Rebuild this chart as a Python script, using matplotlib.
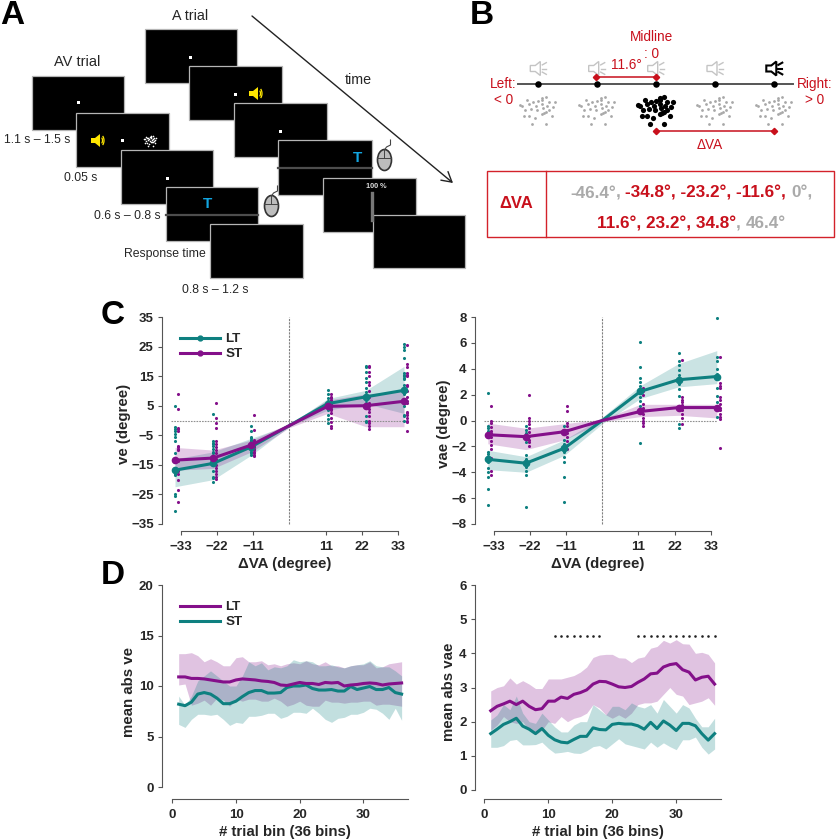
import numpy as np
import matplotlib
matplotlib.use("Agg")
import matplotlib.pyplot as plt
from matplotlib.patches import Rectangle, Polygon, Ellipse, Arc
from matplotlib.lines import Line2D

plt.rcParams['font.family'] = ['Liberation Sans', 'DejaVu Sans']

W, H = 837, 840
TEAL = '#0e8080'
PURPLE = '#84108a'
DARK = '#262626'
AXC = '#555555'
RED = '#c8101c'
GRAY = '#aaaaaa'

#============ Panel C data =============
va_pos = [-34.8, -23.2, -11.6, 0, 11.6, 23.2, 34.8]
va_ticks = [-33, -22, -11, 11, 22, 33]
ve_ticks = [-35, -25, -15, -5, 5, 15, 25, 35]
vae_ticks = [-8, -6, -4, -2, 0, 2, 4, 6, 8]

ve_lt = [-16.8, -14.5, -8.9, -1.7, 5.7, 8.0, 10.2]
ve_lt_hi = [-13.0, -10.6, -6.0, -1.4, 7.4, 10.2, 18.3]
ve_lt_lo = [-22.4, -20.0, -11.7, -2.0, 3.5, 5.7, 2.4]
ve_st = [-13.4, -12.7, -8.3, -1.7, 4.8, 5.0, 6.5]
ve_st_hi = [-9.1, -10.0, -6.6, -1.0, 6.9, 9.0, 10.0]
ve_st_lo = [-16.8, -16.2, -10.6, -2.4, 2.4, -2.1, -2.1]

vae_lt = [-3.0, -3.3, -2.15, 0, 2.25, 3.15, 3.4]
vae_lt_hi = [-2.3, -2.8, -1.5, 0.25, 2.7, 4.4, 5.4]
vae_lt_lo = [-3.8, -4.0, -2.7, -0.25, 1.7, 2.6, 2.85]
vae_st = [-1.1, -1.25, -0.87, 0, 0.7, 1.0, 1.0]
vae_st_hi = [-0.2, -0.6, -0.25, 0.1, 1.25, 1.25, 1.25]
vae_st_lo = [-1.8, -2.25, -1.5, -0.1, 0.3, 0.4, 0.2]

ve_lt_pts = [
    [5, -2.2, -2.8, -3.5, -4.5, -5.5, -7, -11, -16, -16.8, -17.5, -18, -18.5, -25, -25.5, -30.7],
    [2.2, -7, -7.5, -8, -8.5, -9.5, -10.5, -11, -13, -14, -15, -17, -19, -19.5, -20.8],
    [-1.7, -3.5, -5.5, -6, -6.5, -7, -7.5, -8, -8.5, -9, -9.5, -10, -10.5, -11, -11.7],
    [10.2, 8.8, 7.5, 6.5, 6, 5.5, 5, 4.5, 4, 3.5, 1.8, 0.5, -0.7],
    [18.5, 18, 16.5, 14.5, 13, 11, 9.5, 8, 7.5, 7, 6, 5, 1.5, 0, -0.5],
    [26, 25, 24, 21, 16, 15.5, 15, 14.5, 14, 12, 11, 10, 9, 7, 5, 2, 1.5, 0],
]
ve_st_pts = [
    [8.8, 4, -2.5, -3, -3.5, -8.5, -9, -9.5, -10, -13.5, -13.8, -17, -18, -20, -23.5, -27.5],
    [6, 0.8, -1, -2.5, -7, -8, -9, -10, -11, -13, -15, -16, -17, -18, -19, -19.8],
    [1.8, -3.2, -6.5, -7, -7.5, -8, -8.5, -9, -9.5, -10, -10.5, -11, -11.5, -12],
    [8.8, 8, 7.5, 7, 6, 5.5, 5, 4.5, 4, 3.5, 2.5, 1, -0.5, -1.8, -2.5],
    [18.5, 18, 16.5, 15, 13, 12, 10, 8, 6, 5, 4, 3, 1.5, 0, -1, -2, -3],
    [25.7, 19, 18, 16, 15.5, 15, 12, 11.5, 10, 8, 6.5, 6, 3, 2.5, 2, 1, 0, -0.5, -3.5],
]
vae_lt_pts = [
    [2.15, -0.4, -0.6, -0.8, -1, -1.2, -2.4, -2.6, -2.9, -3.2, -3.7, -4, -4.4, -5.3, -6.5],
    [-0.4, -0.7, -1, -1.3, -1.7, -2.7, -3, -3.3, -3.6, -3.9, -4.2, -6.7],
    [-0.4, -0.7, -1, -1.5, -1.8, -2.1, -2.4, -2.8, -3.2, -4.4, -6.3],
    [6.05, 4.1, 3.3, 3, 2.7, 2.4, 2.1, 1.8, 1.5, 1.1, 0.8, 0.6, -1.75],
    [5.2, 4.6, 4.3, 3.9, 3.5, 3.1, 2.8, 2.4, 1.9, 1.1, 0.9, -0.3, -0.6],
    [7.9, 4.9, 4.6, 4, 3.6, 3.3, 2.5, 1.9, 1.4, 1.1, 0.9, 0.3],
]
vae_st_pts = [
    [1.1, 0, -0.2, -0.5, -0.8, -1, -1.3, -1.6, -1.9, -2.2, -2.9, -3.9, -4.2],
    [2, 0.2, 0, -0.3, -0.6, -0.9, -1.2, -1.5, -1.7, -2],
    [1.15, 0.7, -0.2, -0.4, -0.7, -1, -1.3, -1.6, -1.9, -2.2],
    [2.55, 2.3, 2, 1.3, 1, 0.8, 0.5, 0.2, 0, -0.2, -0.4],
    [4.7, 1.8, 1.6, 1.4, 1.2, 1, 0.8, 0.5, 0.2, -0.3],
    [4.9, 2.9, 2.7, 2.5, 1.8, 1.6, 1.3, 1, 0.8, 0.5, 0.3, 0.1, -2.15],
]

#============ Panel D data =============
bins = list(range(1, 37))
abs_ve_lt = [10.9, 10.9, 10.75, 10.75, 10.7, 10.6, 10.5, 10.4, 10.4, 10.6, 10.7, 10.65,
             10.6, 10.5, 10.45, 10.35, 10.1, 10.05, 10.2, 10.35, 10.25, 10.25, 10.15, 10.35,
             10.3, 10.35, 10.0, 10.1, 10.15, 10.25, 10.3, 10.25, 10.1, 10.2, 10.25, 10.3]
abs_ve_lt_hi = [13.2, 13.2, 13.3, 13.0, 12.4, 12.7, 12.4, 12.0, 12.0, 12.8, 12.9, 12.4,
                12.4, 12.5, 12.1, 12.2, 12.0, 12.2, 12.3, 12.2, 12.5, 12.2, 12.1, 12.4,
                12.0, 12.0, 11.8, 12.0, 12.1, 12.1, 12.4, 11.8, 11.9, 12.2, 12.3, 12.4]
abs_ve_lt_lo = [10.1, 10.2, 8.1, 8.3, 8.6, 8.1, 8.8, 8.6, 8.0, 8.7, 8.5, 8.7,
                8.7, 8.5, 8.5, 8.8, 8.5, 8.0, 8.2, 8.5, 8.1, 8.0, 8.0, 8.6,
                8.4, 8.4, 8.3, 8.4, 8.4, 8.5, 8.5, 8.1, 8.2, 8.2, 8.1, 8.0]
abs_ve_st = [8.2, 8.05, 8.4, 9.2, 9.35, 9.2, 8.8, 8.25, 8.25, 8.5, 8.95, 9.35,
             9.55, 9.55, 9.3, 9.3, 9.35, 9.85, 10.0, 10.0, 10.1, 9.75, 9.6, 9.6,
             9.65, 9.5, 9.5, 9.95, 9.65, 9.8, 9.95, 9.65, 9.65, 9.85, 9.35, 9.2]
abs_ve_st_hi = [9.0, 8.1, 9.0, 10.5, 11.0, 11.5, 11.0, 10.5, 10.0, 10.0, 11.0, 12.4,
                12.0, 12.3, 11.6, 11.9, 11.8, 12.0, 12.6, 12.4, 12.5, 12.4, 12.0, 12.0,
                12.1, 11.9, 11.8, 12.0, 12.1, 12.2, 12.5, 12.0, 11.9, 11.9, 11.5, 11.0]
abs_ve_st_lo = [6.2, 5.9, 6.7, 7.2, 7.2, 7.1, 7.2, 6.7, 6.1, 6.4, 6.3, 7.0,
                7.0, 7.1, 7.3, 7.3, 6.8, 7.0, 7.4, 7.4, 7.3, 7.8, 7.3, 6.7,
                6.4, 6.8, 6.9, 7.2, 7.2, 7.4, 7.8, 7.7, 7.3, 6.7, 7.8, 6.6]

abs_vae_lt = [2.32, 2.45, 2.52, 2.6, 2.5, 2.6, 2.45, 2.35, 2.38, 2.6, 2.6, 2.72,
              2.68, 2.8, 2.85, 2.93, 3.1, 3.18, 3.17, 3.1, 3.02, 3.0, 3.03, 3.15,
              3.25, 3.4, 3.42, 3.6, 3.67, 3.7, 3.52, 3.45, 3.22, 3.3, 3.33, 3.1]
abs_vae_lt_hi = [2.9, 3.0, 3.05, 3.28, 3.1, 3.2, 3.1, 2.97, 2.97, 3.25, 3.25, 3.25,
                 3.3, 3.35, 3.45, 3.6, 3.88, 3.95, 3.97, 3.97, 3.87, 3.86, 3.73, 3.86,
                 3.9, 4.15, 4.2, 4.38, 4.3, 4.4, 4.28, 4.27, 4.0, 4.03, 3.97, 3.72]
abs_vae_lt_lo = [1.75, 1.9, 2.15, 2.0, 1.95, 2.0, 1.75, 1.62, 1.75, 2.0, 1.95, 2.15,
                 2.0, 2.1, 2.15, 2.25, 2.5, 2.4, 2.2, 2.1, 2.2, 2.1, 2.25, 2.5,
                 2.55, 2.55, 2.6, 2.8, 3.0, 2.8, 2.75, 2.5, 2.55, 2.6, 2.7, 2.48]
abs_vae_st = [1.65, 1.78, 1.92, 2.0, 2.1, 1.87, 1.78, 1.65, 1.8, 1.6, 1.47, 1.4,
              1.38, 1.48, 1.57, 1.57, 1.82, 1.77, 1.76, 1.92, 1.95, 1.93, 1.93, 1.88,
              1.78, 1.98, 1.8, 2.02, 1.9, 1.74, 1.95, 1.95, 1.88, 1.65, 1.46, 1.65]
abs_vae_st_hi = [2.05, 2.2, 2.5, 2.35, 2.75, 2.25, 2.0, 1.95, 2.25, 2.05, 1.85, 1.7,
                 1.7, 1.9, 2.0, 2.0, 2.5, 2.35, 2.2, 2.45, 2.45, 2.35, 2.55, 2.45,
                 2.4, 2.5, 2.25, 2.65, 2.45, 2.25, 2.5, 2.4, 2.1, 1.85, 1.85, 2.1]
abs_vae_st_lo = [1.25, 1.25, 1.3, 1.45, 1.48, 1.32, 1.32, 1.33, 1.4, 1.22, 1.08, 1.1,
                 1.13, 1.08, 1.07, 1.15, 1.27, 1.3, 1.2, 1.35, 1.5, 1.35, 1.3, 1.25,
                 1.2, 1.4, 1.25, 1.38, 1.27, 1.18, 1.47, 1.47, 1.55, 1.25, 1.05, 1.2]
sig_bins = [11, 12, 13, 14, 15, 16, 17, 18, 24, 25, 26, 27, 28, 29, 30, 31, 32, 33, 34, 35, 36]

#============ Panel B data =============
row1 = [('-46.4°', GRAY), (', ', GRAY), ('-34.8°, -23.2°, -11.6°,', RED), (' ', RED), ('0°,', GRAY)]
row2 = [('11.6°, 23.2°, 34.8°', RED), (', ', GRAY), ('46.4°', GRAY)]
# dot cloud offsets read from the centre cluster, px
cloud_x = [-18, -11, -5, 0, 4, 8, 11, 17, -9, -2, 4, 9, 15, -13, -7, -1, 5, 11, 8, 4, 6, -14, -9, -3, 14, -6, 8, -16, 4]
cloud_y = [-3, -8, -6, -7, -10, -11, -6, -6, -4, -2, -4, -2, -1, 2, 1, 2, 0, 2, 4, 6, 5, 8, 8, 10, 8, 16, 16, -2, -8]

fig = plt.figure(figsize=(W / 100, H / 100), dpi=100)

#full figure layer in pixel coords for the schematics
bg = fig.add_axes([0, 0, 1, 1])
bg.set_xlim(0, W)
bg.set_ylim(H, 0)
bg.axis('off')


def px_axes(left, top, right, bottom):
    return fig.add_axes([left / W, 1 - bottom / H, (right - left) / W, (bottom - top) / H])


def screen(x0, y0, x1, y1, edge='#b5b5b5'):
    bg.add_patch(Rectangle((x0, y0), x1 - x0, y1 - y0, fc='black', ec=edge, lw=0.9))


def fix_dot(x, y):
    bg.add_patch(Rectangle((x - 1.5, y - 1.5), 3, 3, fc='white', ec='none', zorder=5))


def yellow_speaker(x, y):
    bg.add_patch(Polygon([(x - 8, y - 2.5), (x - 4, y - 2.5), (x + 1, y - 6.5), (x + 1, y + 6.5),
                          (x - 4, y + 2.5), (x - 8, y + 2.5)], fc='#ffe600', ec='none', zorder=5))
    for r in (5, 8):
        bg.add_patch(Arc((x + 1, y), r, r * 1.5, theta1=-60, theta2=60, ec='#ffe600', lw=0.9, zorder=5))


def mouse(x, y):
    bg.add_patch(Ellipse((x, y), 14, 21, fc='#bdbdbd', ec='#333333', lw=1.2, zorder=5))
    bg.plot([x - 7, x + 7], [y - 2, y - 2], color='#444444', lw=0.7, zorder=6)
    bg.plot([x, x], [y - 10, y - 2], color='#444444', lw=0.7, zorder=6)
    bg.plot([x, x + 2, x + 6, x + 6], [y - 10, y - 13, y - 15, y - 20], color='#444444', lw=0.8, zorder=6)


def slider(x0, x1, y, tx):
    bg.plot([x0, x1], [y, y], color='#4d4d4d', lw=1.6, zorder=5)
    bg.text(tx, y - 10, 'T', color='#12a5e0', fontsize=11, fontweight='bold', ha='center', va='center', zorder=6)


def speaker_outline(x, y, color, lw=1.0):
    bg.add_patch(Polygon([(x - 8, y - 3), (x - 3, y - 3), (x + 2, y - 7), (x + 2, y + 7),
                          (x - 3, y + 3), (x - 8, y + 3)], fc='white', ec=color, lw=lw))
    for dy in (-4.5, 0, 4.5):
        bg.plot([x + 4, x + 8], [y + dy * 0.8, y + dy * 1.3], color=color, lw=lw)


def red_bracket(x0, x1, y):
    bg.plot([x0, x1], [y, y], color=RED, lw=1.1, marker='D', ms=3.2, zorder=5)


#============ Panel A =============
bg.text(0, 15, 'A', fontsize=24, fontweight='bold', color='black', ha='left', va='center')
bg.text(190, 15.5, 'A trial', fontsize=10.3, color=DARK, ha='center', va='center')
bg.text(77, 62, 'AV trial', fontsize=10.5, color=DARK, ha='center', va='center')

for x0, y0, x1, y1 in [(145, 29, 237.5, 83), (189.5, 66, 282, 120), (234.5, 103, 327, 157),
                       (278.5, 140, 372, 194.5), (323.5, 177.5, 416.5, 231.5), (373, 214.5, 465.5, 268)]:
    screen(x0, y0, x1, y1)
for x0, y0, x1, y1 in [(32, 75.5, 124.5, 129.5), (76.5, 112.5, 169, 167), (121, 149.5, 213.5, 204),
                       (166, 186.5, 258.5, 240.5), (210.5, 224, 303, 278)]:
    screen(x0, y0, x1, y1)

for x, y in [(191, 57), (236, 94), (280.5, 131), (78.5, 102), (123, 140), (167.5, 178)]:
    fix_dot(x, y)
yellow_speaker(257, 93.5)
yellow_speaker(99, 140.5)
# visual stimulus blob in the AV trial
bg.scatter(150 + np.array(cloud_x) * 0.33, 140 + np.array(cloud_y) * 0.4, s=1.4, c='white', lw=0, zorder=5)
slider(278.5, 372, 167.5, 358)
slider(166, 258.5, 214.5, 207.5)
mouse(384.5, 160)
mouse(271.5, 206)
bg.text(376, 186.5, '100 %', color='#dddddd', fontsize=5.2, fontweight='bold', ha='center', va='center', zorder=6)
bg.plot([372.5, 372.5], [193, 220], color='#777777', lw=2.4, zorder=6)

for x, y, s in [(37, 140, '1.1 s – 1.5 s'), (80.5, 178, '0.05 s'), (127.5, 216, '0.6 s – 0.8 s'),
                (164.5, 253.5, 'Response time'), (215, 290, '0.8 s – 1.2 s')]:
    bg.text(x, y, s, fontsize=8.8, color=DARK, ha='center', va='center')
bg.text(358.5, 79.5, 'time', fontsize=10.3, color=DARK, ha='center', va='center')
bg.annotate('', xy=(453, 183), xytext=(252, 16),
            arrowprops=dict(arrowstyle='->,head_length=0.7,head_width=0.4', color='#222222', lw=1.0, shrinkA=0, shrinkB=0))

#============ Panel B =============
bg.text(470, 15, 'B', fontsize=24, fontweight='bold', color='black', ha='left', va='center')
b_x = [538.3, 596.7, 655.7, 715, 774.3]
bg.plot([518.3, 793.3], [84, 84], color='#555555', lw=1.4, zorder=2)
bg.scatter(b_x, [84] * 5, s=22, c='black', lw=0, zorder=3)
for i, x in enumerate(b_x):
    speaker_outline(x, 68.5, 'black' if i == 4 else '#c4c4c4', 1.5 if i == 4 else 1.0)
    if i == 2:
        bg.scatter(x + np.array(cloud_x), 108 + np.array(cloud_y), s=14, c='black', lw=0, zorder=3)
    else:
        bg.scatter(x + np.array(cloud_x), 108 + np.array(cloud_y), s=4, c='#a8a8a8', lw=0, zorder=3)
red_bracket(595.7, 655.7, 77)
red_bracket(655.7, 774.3, 131)
for x, y, s in [(651.7, 37.3, 'Midline'), (651.7, 54.3, ': 0'), (626.7, 65, '11.6°'),
                (503.3, 84, 'Left:'), (503.3, 100, '< 0'), (815, 84, 'Right:'), (815, 100, '> 0'),
                (710, 145, 'ΔVA')]:
    bg.text(x, y, s, fontsize=9.8, color=RED, ha='center', va='center',
            bbox=dict(fc='white', ec='none', pad=0.2) if s == '11.6°' else None, zorder=4)
bg.add_patch(Rectangle((487.3, 171), 346.7, 66.3, fc='white', ec='#d3222a', lw=1.0))
bg.plot([546.3, 546.3], [171, 237.3], color='#d3222a', lw=1.0)
bg.text(516.7, 204, 'ΔVA', fontsize=12, fontweight='bold', color=RED, ha='center', va='center')

renderer = fig.canvas.get_renderer()


def colored_row(parts, x, y):
    # place the pieces one after another, measuring each one
    for s, c in parts:
        t = bg.text(x, y, s, fontsize=12.3, fontweight='bold', color=c, ha='left', va='center_baseline')
        t.set_text(s.replace(' ', '\u00a0'))
        x += t.get_window_extent(renderer).width


colored_row(row1, 570, 191.7)
colored_row(row2, 596.7, 222.3)


#============ Panels C and D =============
def style_axes(ax, xb, yb, xticks, yticks, xlabel, ylabel, ypad, xlab_x=0.5):
    for side in ('top', 'right'):
        ax.spines[side].set_visible(False)
    ax.patch.set_alpha(0)
    ax.spines['left'].set_bounds(*yb)
    ax.spines['bottom'].set_bounds(*xb)
    ax.spines['left'].set_color(AXC)
    ax.spines['bottom'].set_color(AXC)
    ax.set_xticks(xticks)
    ax.set_yticks(yticks)
    ax.tick_params(length=3, width=0.8, color=AXC, labelcolor=DARK, labelsize=9.5, pad=3)
    ax.tick_params(axis='x', pad=4.5)
    for lab in ax.get_xticklabels() + ax.get_yticklabels():
        lab.set_fontweight('bold')
    ax.set_xlabel(xlabel, fontsize=10.8, fontweight='bold', color=DARK, labelpad=2.5, x=xlab_x)
    ax.set_ylabel(ylabel, fontsize=10.8, fontweight='bold', color=DARK, labelpad=ypad)


def va_panel(ax, xlim, lt, lt_hi, lt_lo, st, st_hi, st_lo, lt_pts, st_pts, y_lim, ticks, ylabel):
    ax.set_xlim(*xlim)
    ax.set_ylim(*y_lim)
    ax.axvline(0, ymin=(ticks[0] - y_lim[0]) / (y_lim[1] - y_lim[0]), color='#808080', lw=0.8, ls=(0, (2, 1)))
    ax.plot([-36, 34.8], [0, 0], color='#909090', lw=0.8, ls=(0, (1.5, 1)))
    ax.fill_between(va_pos, lt_lo, lt_hi, color=TEAL, alpha=0.22, lw=0)
    ax.fill_between(va_pos, st_lo, st_hi, color=PURPLE, alpha=0.22, lw=0)
    outer = [p for p in va_pos if p != 0]
    for x, lp, sp in zip(outer, lt_pts, st_pts):
        ax.scatter([x] * len(lp), lp, s=5, c=TEAL, lw=0, zorder=3)
        ax.scatter([x + 0.9] * len(sp), sp, s=5, c=PURPLE, lw=0, zorder=3)
    ax.plot(va_pos, lt, color=TEAL, lw=2.2, marker='o', ms=4.5, markevery=[0, 1, 2, 4, 5, 6], zorder=4, label='LT')
    ax.plot(va_pos, st, color=PURPLE, lw=2.2, marker='o', ms=4.5, markevery=[0, 1, 2, 4, 5, 6], zorder=5, label='ST')
    style_axes(ax, (-33, 33), (ticks[0], ticks[-1]), va_ticks, ticks, 'ΔVA (degree)', ylabel, 0, 0.468)


def bin_panel(ax, xlim, lt, lt_hi, lt_lo, st, st_hi, st_lo, y_lim, ticks, ylabel):
    ax.set_xlim(*xlim)
    ax.set_ylim(*y_lim)
    ax.fill_between(bins, lt_lo, lt_hi, color=PURPLE, alpha=0.25, lw=0)
    ax.fill_between(bins, st_lo, st_hi, color=TEAL, alpha=0.25, lw=0)
    ax.plot(bins, lt, color=PURPLE, lw=2.2, label='LT', zorder=4)
    ax.plot(bins, st, color=TEAL, lw=2.2, label='ST', zorder=3)
    style_axes(ax, (0, 37), (ticks[0], ticks[-1]), [0, 10, 20, 30], ticks, '# trial bin (36 bins)', ylabel, 2.4)


px_per_deg = 3.29
ax_c1 = px_axes(162, 317, 425, 531)
va_panel(ax_c1, ((162 - 289.5) / px_per_deg, (425 - 289.5) / px_per_deg),
         ve_lt, ve_lt_hi, ve_lt_lo, ve_st, ve_st_hi, ve_st_lo, ve_lt_pts, ve_st_pts,
         (-35 - 7 * 70 / 207, 35), ve_ticks, 've (degree)')
ax_c1.legend(handles=[Line2D([], [], color=TEAL, lw=2.2, marker='o', ms=3.5),
                      Line2D([], [], color=PURPLE, lw=2.2, marker='o', ms=3.5)],
             labels=['LT', 'ST'], loc='upper left', bbox_to_anchor=(0.07, 0.925), frameon=False, numpoints=1,
             handlelength=3.0, handletextpad=0.35, labelspacing=0.2, borderpad=0, borderaxespad=0,
             prop=dict(size=9.6, weight='bold'), labelcolor=DARK)
bg.text(101, 316, 'C', fontsize=24, fontweight='bold', color='black', ha='left', va='center')

ax_c2 = px_axes(475, 317, 738, 531)
va_panel(ax_c2, ((475 - 602.3) / px_per_deg, (738 - 602.3) / px_per_deg),
         vae_lt, vae_lt_hi, vae_lt_lo, vae_st, vae_st_hi, vae_st_lo, vae_lt_pts, vae_st_pts,
         (-8 - 7 * 16 / 207, 8), vae_ticks, 'vae (degree)')

ax_d1 = px_axes(162, 585, 408, 799)
bin_panel(ax_d1, ((162 - 172.3) / 6.37, 37),
          abs_ve_lt, abs_ve_lt_hi, abs_ve_lt_lo, abs_ve_st, abs_ve_st_hi, abs_ve_st_lo,
          (-12 * 20 / 202, 20), [0, 5, 10, 15, 20], 'mean abs ve')
ax_d1.legend(loc='upper left', bbox_to_anchor=(0.075, 0.925), frameon=False, handlelength=3.0,
             handletextpad=0.35, labelspacing=0.2, borderpad=0, borderaxespad=0,
             prop=dict(size=9.6, weight='bold'), labelcolor=DARK)
bg.text(101, 576, 'D', fontsize=24, fontweight='bold', color='black', ha='left', va='center')

ax_d2 = px_axes(475, 585, 721, 799)
bin_panel(ax_d2, ((475 - 484.3) / 6.38, 37),
          abs_vae_lt, abs_vae_lt_hi, abs_vae_lt_lo, abs_vae_st, abs_vae_st_hi, abs_vae_st_lo,
          (-9 * 6 / 205, 6), [0, 1, 2, 3, 4, 5, 6], 'mean abs vae')
ax_d2.scatter(sig_bins, [4.5] * len(sig_bins), s=3.5, c='#222222', lw=0, zorder=5)

fig.savefig('out.png', dpi=100)
